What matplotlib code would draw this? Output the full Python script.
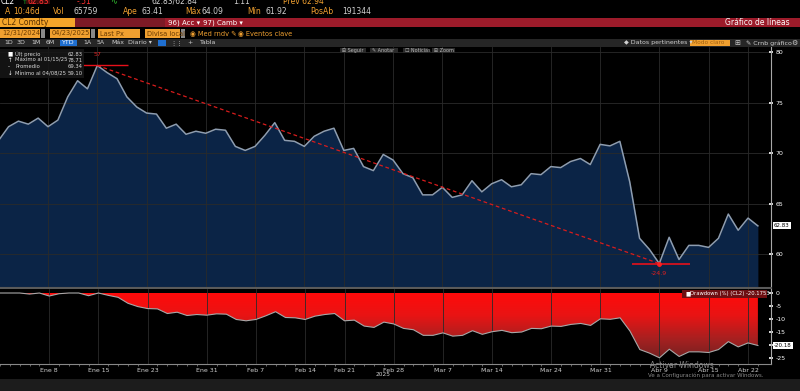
import matplotlib
matplotlib.use("Agg")
import matplotlib.pyplot as plt
import numpy as np
from matplotlib.colors import LinearSegmentedColormap
from matplotlib.patches import Rectangle

W, H = 800, 391

# CL2 Comdty, cierre diario 31/12/2024 - 23/04/2025 (indice = dia de negociacion)
precio = [71.3, 72.65, 73.2, 72.9, 73.5, 72.65, 73.3, 75.6, 77.2, 76.4,
          78.71, 78.0, 77.4, 75.6, 74.6, 74.0, 73.9, 72.5, 72.9, 71.9,
          72.2, 72.0, 72.4, 72.3, 70.7, 70.3, 70.7, 71.8, 73.05, 71.3,
          71.2, 70.7, 71.7, 72.2, 72.5, 70.3, 70.5, 68.7, 68.3, 69.9,
          69.35, 68.0, 67.6, 65.9, 65.9, 66.65, 65.65, 65.9, 67.3, 66.2,
          67.0, 67.4, 66.7, 66.9, 68.0, 67.9, 68.7, 68.6, 69.2, 69.5,
          68.9, 70.9, 70.75, 71.2, 67.2, 61.6, 60.5, 59.10, 61.7, 59.5,
          60.9, 60.9, 60.7, 61.6, 64.0, 62.4, 63.6, 62.83]
dia_tick = [5, 10, 15, 21, 26, 31, 35, 40, 45, 50, 56, 61, 67, 72, 76]
etiqueta_tick = ["Ene 8", "Ene 15", "Ene 23", "Ene 31", "Feb 7", "Feb 14", "Feb 21",
                 "Feb 28", "Mar 7", "Mar 14", "Mar 24", "Mar 31", "Abr 9", "Abr 15", "Abr 22"]
ticks_precio = [60, 65, 70, 75, 80]
ticks_dd = [0, -5, -10, -15, -20, -25]
ult_precio = 62.83
maximo = 78.71
promedio = 69.34
minimo = 59.10
i_max, i_min = 10, 67

p = np.array(precio)
x = np.arange(len(p))
dd = (p / np.maximum.accumulate(p) - 1) * 100

fig = plt.figure(figsize=(W / 100, H / 100), dpi=100, facecolor='black')


def caja(x0, y0, x1, y1, c, **kw):
    fig.patches.append(Rectangle((x0 / W, 1 - y1 / H), (x1 - x0) / W, (y1 - y0) / H,
                                 transform=fig.transFigure, fc=c, ec='none', **kw))


def txt(x, y, s, c='white', fs=5, **kw):
    fig.text(x / W, 1 - y / H, s, color=c, fontsize=fs, va='center', **kw)


def ejes(x0, y0, x1, y1):
    return fig.add_axes([x0 / W, 1 - y1 / H, (x1 - x0) / W, (y1 - y0) / H])


NAR = '#f0a030'
GR = '#d0d0d0'

# ---- cabecera ----
txt(1, 1.5, "CL2", 'white', 5.5)
txt(22, 1.5, "\u2191", '#30c030', 5)
caja(26, 0, 50, 4, '#3a0a0a')
txt(27, 1.5, "62.83", '#ff3030', 5.5)
txt(77, 1.5, "-.51", '#ff3030', 5.5)
txt(110, 1.5, "\u223f", '#30c030', 6)
txt(152, 1.5, "62.83/62.84", GR, 5.5)
txt(233, 1.5, "1:11", GR, 5.5)
txt(283, 1.5, "Prev 62.94", NAR, 5.5)

fila2 = [(5, "A", NAR), (13, "10:46d", NAR), (53, "Vol", NAR), (73, "65759", GR),
         (123, "Ape", NAR), (141, "63.41", GR), (185, "M\u00e1x", NAR), (202, "64.09", GR),
         (247, "M\u00edn", NAR), (266, "61.92", GR), (310, "PosAb", NAR), (342, "191344", GR)]
for xx, s, c in fila2:
    txt(xx, 12, s, c, 5.5)

caja(0, 18, 75, 27, '#f5a52a')
txt(2, 22.5, "CL2 Comdty", '#5a3000', 5.5)
caja(75, 18, 800, 27, '#9c1b2a')
caja(75, 18, 165, 27, '#7c1a26')
txt(168, 22.5, "96) Acc \u25be", 'white', 5)
txt(203, 22.5, "97) Camb \u25be", 'white', 5)
txt(790, 22.5, "Gr\u00e1fico de l\u00edneas", 'white', 5.5, ha='right')

for x0, x1, s in [(0, 40, "12/31/2024"), (50, 90, "04/23/2025"), (98, 140, "Last Px"),
                  (145, 180, "Divisa local")]:
    caja(x0, 29, x1, 38, '#f0a030')
    txt(x0 + 2, 33.5, s, '#6a3a00', 4.8)
for x0 in [41, 91, 181]:
    caja(x0, 29, x0 + 4, 38, '#888888')
txt(190, 33.5, "\u25c9 Med rndv \u270e", NAR, 4.8)
txt(238, 33.5, "\u25c9 Eventos clave", NAR, 4.8)

caja(0, 38.5, 800, 47, '#262626')
for xx, s in [(4, "1D"), (17, "3D"), (31, "1M"), (46, "6M"), (83, "1A"), (97, "5A"),
              (111, "M\u00e1x"), (128, "Diario \u25be"), (170, "\u22ee\u22ee"), (187, "+"), (200, "Tabla")]:
    txt(xx, 42.8, s, GR, 4.5)
caja(60, 39.5, 77, 46, '#1f6fd0')
txt(62, 42.8, "YTD", 'white', 4.5)
caja(158, 39.5, 166, 46, '#1f6fd0')
txt(624, 42.8, "\u25c6 Datos pertinentes \u25be", GR, 4.5)
caja(690, 39.5, 730, 46, '#f0a030')
txt(692, 42.8, "Modo claro", '#a06010', 4.2)
txt(734, 42.8, "\u229e", GR, 5)
txt(746, 42.8, "\u270e Crnb gr\u00e1fico", GR, 4.5)
txt(791, 42.8, "\u2699", GR, 5)

# ---- panel de precio ----
ax = ejes(0, 47, 771, 288)
ax.set_facecolor('black')
ax.fill_between(x, p, 50, color='#0b2446', lw=0, zorder=1)
ax.plot(x, p, color='#8e9db0', lw=1.1, zorder=3)
ax.hlines(maximo, 8.55, 13.1, color='#e8101a', lw=1, zorder=4)
ax.plot([i_max, i_min], [maximo, minimo], color='#d81c1c', lw=0.9, dashes=(3, 2.2), zorder=4)
ax.hlines(minimo, 64.2, 70.1, color='#e8101a', lw=1.2, zorder=4)
ax.plot(i_min, minimo, 'o', color='#ff2020', ms=2.5, zorder=5)
ax.text(i_max, maximo + 1.1, str(i_min - i_max), color='#e02020', fontsize=4.5,
        ha='center', va='center')
ax.text(i_min, minimo - 0.95, f"{(minimo / maximo - 1) * 100:.1f}", color='#e02020',
        fontsize=4.5, ha='center', va='center')
ax.set_xlim(0.13, 78.33)
ax.set_ylim(56.68, 80.54)
ax.set_xticks(dia_tick)
ax.set_yticks(ticks_precio)
ax.set_yticklabels([str(t) for t in ticks_precio])
ax.grid(color='#2a2a2a', lw=0.6, zorder=2)
ax.yaxis.tick_right()
ax.tick_params(axis='x', labelbottom=False, length=0)
ax.tick_params(axis='y', colors='white', labelsize=4.5, length=2.5, width=1.2,
               direction='inout', pad=2)
for s in ['left', 'top']:
    ax.spines[s].set_visible(False)
ax.spines['right'].set_color('#a8a8a8')
ax.spines['right'].set_linewidth(0.8)
ax.spines['bottom'].set_color('#5a5a5a')
ax.spines['bottom'].set_linewidth(1.5)
ax.annotate(f"{ult_precio:.2f}", xy=(1.0, ult_precio), xycoords=('axes fraction', 'data'),
            xytext=(2, 0), textcoords='offset points', fontsize=4, color='black', va='center',
            bbox=dict(fc='white', ec='none', pad=0.8), annotation_clip=False)

# leyenda
caja(0, 49, 84, 78, '#161616', alpha=0.9)
filas = [("\u25a0", "\u00dalt precio", ult_precio), ("\u2191", "M\u00e1ximo al 01/15/25", maximo),
         ("-", "Promedio", promedio), ("\u2193", "M\u00ednimo al 04/08/25", minimo)]
for k, (m, s, v) in enumerate(filas):
    yy = 54 + k * 6.5
    txt(8, yy, m, 'white', 4)
    txt(15, yy, s, '#d8d8d8', 3.8)
    txt(68, yy, f"{v:.2f}", '#d8d8d8', 3.8)

for x0, x1, s in [(340, 366, "\u229e Seguir"), (370, 398, "\u270e Anotar"),
                  (403, 428, "\u2610 Noticias"), (432, 455, "\u229e Zoom")]:
    caja(x0, 47.5, x1, 53, '#2a2a2a')
    txt(x0 + 2, 50.3, s, '#b8b8b8', 3.5)

# ---- panel de drawdown ----
ax2 = ejes(0, 289, 771, 364)
ax2.set_facecolor('black')
poly = ax2.fill_between(x, dd, 0, color='none', lw=0)
cmap = LinearSegmentedColormap.from_list('dd', ['#ff0a0a', '#e81414', '#a82020', '#6e2222'])
grad = ax2.imshow(np.linspace(0, 1, 256).reshape(-1, 1), cmap=cmap, aspect='auto',
                  extent=[x[0], x[-1], -26, 0], origin='upper', zorder=1)
grad.set_clip_path(poly.get_paths()[0], transform=ax2.transData)
ax2.plot(x, dd, color='#a8a8a8', lw=0.8, zorder=3)
ax2.set_xlim(0.13, 78.33)
ax2.set_ylim(-27.3, 1.54)
ax2.set_xticks(dia_tick)
ax2.set_xticklabels(etiqueta_tick)
ax2.set_xticks(x, minor=True)
ax2.set_yticks(ticks_dd)
ax2.set_yticklabels([str(t) for t in ticks_dd])
ax2.grid(axis='x', color='#2a2a2a', lw=0.6, zorder=2)
ax2.yaxis.tick_right()
ax2.tick_params(axis='x', colors='#cfcfcf', labelsize=4.5, length=0, pad=3)
ax2.tick_params(axis='x', which='minor', length=1.5, color='#777777')
ax2.tick_params(axis='y', colors='white', labelsize=4.5, length=2.5, width=1.2,
                direction='inout', pad=2)
for s in ['left', 'top']:
    ax2.spines[s].set_visible(False)
ax2.spines['right'].set_color('#a8a8a8')
ax2.spines['right'].set_linewidth(0.8)
ax2.spines['bottom'].set_color('#888888')
ax2.spines['bottom'].set_linewidth(0.8)
ax2.annotate(f"{dd[-1]:.2f}", xy=(1.0, dd[-1]), xycoords=('axes fraction', 'data'),
             xytext=(2, 0), textcoords='offset points', fontsize=4, color='black', va='center',
             bbox=dict(fc='white', ec='none', pad=0.8), annotation_clip=False)

caja(682, 289.5, 767, 298, '#6e0f12')
txt(685, 293.8, "\u25a0", 'white', 4)
txt(690, 293.8, f"Drawdown (%) (CL2) {dd[-1]:.4f}", 'white', 3.8)

txt(383, 375, "2025", '#cfcfcf', 4.2, ha='center')

# pie
caja(0, 379, 800, 391, '#1c1c1c')
txt(650, 366, "Activar Windows", '#8a8a8a', 5.5)
txt(648, 375.5, "Ve a Configuraci\u00f3n para activar Windows.", '#8a8a8a', 4)

fig.savefig("out.png", dpi=100, facecolor='black')
